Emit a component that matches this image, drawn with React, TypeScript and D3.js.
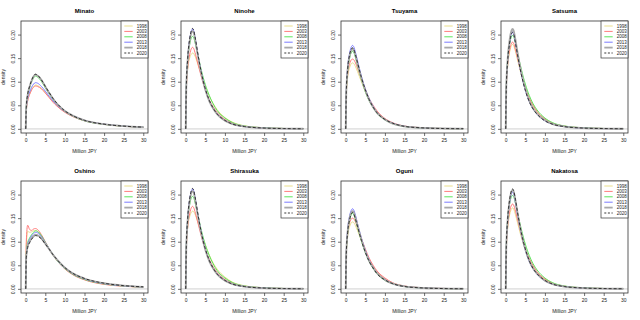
import * as d3 from 'd3'
import { useEffect, useRef } from 'react'

const years = ['1998', '2003', '2008', '2013', '2018', '2020']
const towns = ['Minato', 'Ninohe', 'Tsuyama', 'Satsuma', 'Oshino', 'Shirasuka', 'Oguni', 'Nakatosa']
const incomeGrid = [0, 0.15, 0.5, 1, 1.5, 1.75, 2, 2.5, 3, 4, 5, 6, 7, 8, 10, 12, 15, 20, 25, 30]
const xTicks = [0, 5, 10, 15, 20, 25, 30]
const yTicks = [0, 0.05, 0.1, 0.15, 0.2]

// one row per year, same order as `years`
const minato = [
  [0, .039, .060, .074, .084, .087, .090, .093, .092, .086, .077, .067, .058, .049, .036, .027, .018, .0098, .0056, .0035],
  [0, .038, .059, .073, .082, .086, .088, .091, .090, .085, .076, .066, .056, .048, .035, .026, .017, .0096, .0055, .0035],
  [0, .045, .071, .087, .100, .104, .108, .112, .110, .101, .087, .074, .062, .052, .037, .027, .017, .0095, .0056, .0036],
  [0, .042, .064, .078, .088, .092, .095, .098, .097, .090, .080, .069, .059, .050, .037, .028, .018, .0100, .0058, .0037],
  [0, .046, .072, .090, .102, .107, .111, .115, .113, .104, .090, .076, .064, .053, .038, .028, .018, .0098, .0058, .0037],
  [0, .046, .073, .090, .103, .108, .112, .116, .114, .104, .090, .077, .064, .054, .038, .028, .018, .0099, .0058, .0037],
]
const ninohe = [
  [0, .081, .126, .150, .159, .161, .160, .152, .140, .115, .091, .070, .054, .041, .024, .014, .0064, .0023, .0008, .0003],
  [0, .080, .128, .157, .171, .173, .171, .158, .142, .110, .083, .062, .047, .035, .020, .012, .0054, .0019, .0007, .0003],
  [0, .090, .145, .178, .194, .196, .194, .179, .161, .124, .094, .071, .053, .039, .023, .013, .0061, .0022, .0008, .0003],
  [0, .089, .148, .189, .209, .212, .209, .189, .163, .119, .085, .060, .043, .032, .018, .010, .0049, .0017, .0006, .0002],
  [0, .087, .146, .185, .205, .208, .205, .185, .160, .116, .083, .059, .043, .031, .017, .010, .0048, .0017, .0006, .0002],
  [0, .089, .149, .190, .210, .213, .210, .190, .164, .119, .085, .061, .044, .032, .018, .010, .0049, .0017, .0006, .0002],
]
const tsuyama = [
  [0, .070, .109, .130, .139, .140, .139, .132, .122, .100, .079, .061, .047, .036, .021, .012, .0056, .0020, .0007, .0003],
  [0, .074, .115, .138, .147, .148, .147, .140, .129, .106, .084, .064, .050, .038, .022, .013, .0059, .0021, .0007, .0003],
  [0, .076, .122, .150, .163, .165, .163, .151, .135, .105, .079, .059, .045, .033, .019, .011, .0051, .0018, .0007, .0002],
  [0, .081, .131, .161, .175, .177, .175, .162, .145, .112, .085, .064, .048, .035, .020, .012, .0055, .0019, .0007, .0003],
  [0, .078, .126, .155, .168, .170, .168, .156, .139, .108, .082, .061, .046, .034, .020, .011, .0053, .0019, .0007, .0003],
  [0, .079, .127, .157, .170, .172, .170, .157, .141, .109, .083, .062, .046, .034, .020, .012, .0053, .0019, .0007, .0003],
]
const satsuma = [
  [0, .082, .132, .163, .177, .179, .177, .164, .147, .114, .086, .064, .048, .036, .021, .012, .0055, .0020, .0007, .0003],
  [0, .085, .136, .167, .182, .184, .182, .168, .151, .117, .088, .066, .050, .037, .021, .012, .0057, .0020, .0007, .0003],
  [0, .091, .147, .180, .196, .198, .196, .181, .162, .126, .095, .071, .053, .040, .023, .013, .0061, .0022, .0008, .0003],
  [0, .086, .144, .182, .202, .205, .202, .182, .158, .115, .082, .058, .042, .031, .017, .0098, .0047, .0016, .0006, .0002],
  [0, .089, .148, .189, .209, .212, .209, .189, .163, .119, .085, .060, .043, .032, .018, .010, .0049, .0017, .0006, .0002],
  [0, .086, .144, .182, .202, .205, .202, .182, .158, .115, .082, .058, .042, .031, .017, .0098, .0047, .0016, .0006, .0002],
]
const oshino = [
  [0, .090, .122, .120, .121, .122, .123, .124, .122, .112, .098, .084, .071, .060, .043, .031, .020, .0100, .0060, .0037],
  [0, .100, .135, .126, .124, .125, .127, .128, .126, .115, .100, .085, .072, .060, .042, .030, .019, .0095, .0055, .0035],
  [0, .075, .098, .108, .115, .118, .120, .123, .122, .113, .099, .085, .072, .060, .043, .031, .020, .0105, .0060, .0038],
  [0, .070, .094, .105, .112, .115, .117, .120, .119, .111, .098, .085, .072, .061, .044, .032, .021, .0110, .0063, .0040],
  [0, .068, .090, .100, .107, .110, .112, .115, .114, .107, .096, .084, .072, .062, .045, .033, .022, .0120, .0068, .0043],
  [0, .066, .088, .098, .105, .108, .110, .113, .112, .106, .095, .084, .072, .062, .045, .033, .022, .0120, .0068, .0043],
]
const shirasuka = [
  [0, .083, .129, .153, .163, .165, .164, .156, .144, .118, .093, .072, .055, .042, .025, .014, .0066, .0023, .0008, .0003],
  [0, .081, .130, .159, .173, .175, .173, .160, .144, .111, .084, .063, .047, .035, .020, .012, .0054, .0019, .0007, .0003],
  [0, .090, .145, .178, .194, .196, .194, .179, .161, .124, .094, .071, .053, .039, .023, .013, .0061, .0022, .0008, .0003],
  [0, .089, .148, .189, .209, .212, .209, .189, .163, .119, .085, .060, .043, .032, .018, .010, .0049, .0017, .0006, .0002],
  [0, .087, .146, .185, .205, .208, .205, .185, .160, .116, .083, .059, .043, .031, .017, .010, .0048, .0017, .0006, .0002],
  [0, .089, .149, .190, .210, .213, .210, .190, .164, .119, .085, .061, .044, .032, .018, .010, .0049, .0017, .0006, .0002],
]
const oguni = [
  [0, .071, .111, .132, .141, .142, .141, .134, .124, .102, .080, .062, .048, .036, .021, .012, .0057, .0020, .0007, .0003],
  [0, .075, .117, .140, .149, .150, .149, .142, .131, .107, .085, .065, .050, .038, .023, .013, .0060, .0021, .0008, .0003],
  [0, .074, .118, .146, .158, .160, .158, .146, .131, .102, .077, .058, .043, .032, .018, .011, .0050, .0018, .0006, .0002],
  [0, .078, .126, .155, .168, .170, .168, .156, .139, .108, .082, .061, .046, .034, .020, .011, .0053, .0019, .0007, .0003],
  [0, .076, .122, .150, .163, .165, .163, .151, .135, .105, .079, .059, .045, .033, .019, .011, .0051, .0018, .0007, .0002],
  [0, .075, .120, .147, .160, .162, .160, .148, .133, .103, .078, .058, .044, .032, .019, .011, .0050, .0018, .0006, .0002],
]
const nakatosa = [
  [0, .079, .127, .157, .170, .172, .170, .157, .141, .109, .083, .062, .046, .034, .020, .012, .0053, .0019, .0007, .0003],
  [0, .083, .133, .164, .178, .180, .178, .165, .148, .114, .086, .065, .049, .036, .021, .012, .0056, .0020, .0007, .0003],
  [0, .091, .147, .180, .196, .198, .196, .181, .162, .126, .095, .071, .053, .040, .023, .013, .0061, .0022, .0008, .0003],
  [0, .086, .144, .182, .202, .205, .202, .182, .158, .115, .082, .058, .042, .031, .017, .0098, .0047, .0016, .0006, .0002],
  [0, .088, .147, .187, .207, .210, .207, .187, .162, .118, .084, .060, .043, .032, .017, .010, .0048, .0017, .0006, .0002],
  [0, .089, .148, .189, .209, .212, .209, .189, .163, .119, .085, .060, .043, .032, .018, .010, .0049, .0017, .0006, .0002],
]

const densities = [minato, ninohe, tsuyama, satsuma, oshino, shirasuka, oguni, nakatosa]

const lineColors = ['#eadf8c', '#ff7b7b', '#5ce65c', '#7b7bff', '#a9a9a9', '#222222']
const lineWidths = [1, 1, 1, 1, 1.8, 0.9]
const lineDash = [null, null, null, null, null, '3,2']

const FONT = 'Liberation Sans, Arial, Helvetica, sans-serif'

export default function App() {
  const svgRef = useRef(null)

  useEffect(() => {
    const svg = d3.select(svgRef.current)
    svg.selectAll('*').remove()

    const panelW = 160
    const panelH = 160
    const box = { left: 21, right: 148, top: 21, bottom: 133 }

    // R style: 4% padding around xlim = c(0, 30), ylim = c(0, 0.22)
    const x = d3.scaleLinear().domain([-1.2, 31.2]).range([box.left, box.right])
    const y = d3.scaleLinear().domain([-0.0088, 0.2288]).range([box.bottom, box.top])

    const line = d3.line()
      .x((d) => x(d[0]))
      .y((d) => y(d[1]))
      .curve(d3.curveMonotoneX)

    towns.forEach((town, i) => {
      const g = svg.append('g')
        .attr('transform', `translate(${(i % 4) * panelW},${Math.floor(i / 4) * panelH})`)

      g.append('text')
        .attr('x', (box.left + box.right) / 2)
        .attr('y', 13.2)
        .attr('text-anchor', 'middle')
        .attr('font-weight', 'bold')
        .attr('font-size', 6)
        .attr('fill', '#000')
        .text(town)

      // zero line
      g.append('line')
        .attr('x1', box.left).attr('x2', box.right)
        .attr('y1', y(0)).attr('y2', y(0))
        .attr('stroke', '#e4e4e4')
        .attr('stroke-width', 1.6)

      densities[i].forEach((row, k) => {
        g.append('path')
          .datum(row.map((v, j) => [incomeGrid[j], v]))
          .attr('d', line)
          .attr('fill', 'none')
          .attr('stroke', lineColors[k])
          .attr('stroke-width', lineWidths[k])
          .attr('stroke-dasharray', lineDash[k])
      })

      // axes
      const xAxis = g.append('g')
        .attr('transform', `translate(0,${box.bottom})`)
        .call(d3.axisBottom(x).tickValues(xTicks).tickSize(3).tickPadding(2))
      xAxis.select('.domain').remove()
      xAxis.selectAll('text').attr('font-size', 5).attr('font-family', FONT).attr('fill', '#222')
      xAxis.selectAll('line').attr('stroke', '#333').attr('stroke-width', 0.7)

      const yAxis = g.append('g')
        .attr('transform', `translate(${box.left},0)`)
        .call(d3.axisLeft(y).tickValues(yTicks).tickFormat(d3.format('.2f')).tickSize(3))
      yAxis.select('.domain').remove()
      yAxis.selectAll('line').attr('stroke', '#333').attr('stroke-width', 0.7)
      yAxis.selectAll('text')
        .attr('x', null).attr('dy', null)
        .attr('text-anchor', 'middle')
        .attr('transform', 'translate(-6.5,0) rotate(-90)')
        .attr('font-size', 5).attr('font-family', FONT).attr('fill', '#222')

      g.append('text')
        .attr('x', (box.left + box.right) / 2)
        .attr('y', 153.3)
        .attr('text-anchor', 'middle')
        .attr('font-size', 5)
        .attr('fill', '#222')
        .text('Million JPY')

      g.append('text')
        .attr('transform', `translate(5.3,${(box.top + box.bottom) / 2}) rotate(-90)`)
        .attr('text-anchor', 'middle')
        .attr('font-size', 5)
        .attr('fill', '#222')
        .text('density')

      g.append('rect')
        .attr('x', box.left).attr('y', box.top)
        .attr('width', box.right - box.left).attr('height', box.bottom - box.top)
        .attr('fill', 'none')
        .attr('stroke', '#333')
        .attr('stroke-width', 0.8)

      // legend, top right inside the box
      const lg = g.append('g')
      lg.append('rect')
        .attr('x', 121).attr('y', box.top)
        .attr('width', box.right - 121).attr('height', 37)
        .attr('fill', 'white')
        .attr('stroke', '#333')
        .attr('stroke-width', 0.7)
      years.forEach((yr, k) => {
        const ly = 26 + k * 5.4
        lg.append('line')
          .attr('x1', 124.3).attr('x2', 132.7)
          .attr('y1', ly).attr('y2', ly)
          .attr('stroke', lineColors[k])
          .attr('stroke-width', lineWidths[k])
          .attr('stroke-dasharray', lineDash[k] ? '2,1.6' : null)
        lg.append('text')
          .attr('x', 136.8).attr('y', ly + 1.6)
          .attr('font-size', 4.5)
          .attr('fill', '#222')
          .text(yr)
      })
    })
  }, [])

  return (
    <svg
      ref={svgRef}
      width={640}
      height={320}
      style={{ position: 'absolute', left: 0, top: 0, background: 'white', fontFamily: FONT, opacity: 0.999 }}
    />
  )
}
